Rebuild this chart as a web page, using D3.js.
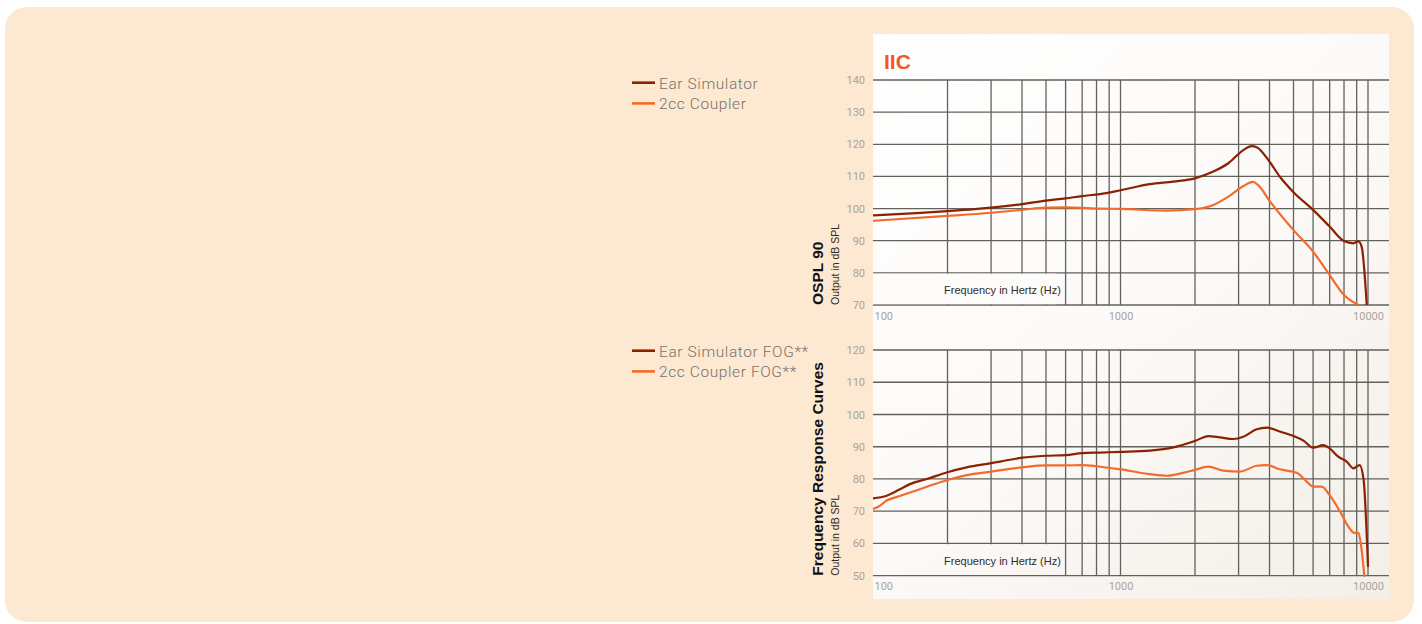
<!DOCTYPE html>
<html>
<head>
<meta charset="utf-8">
<script src="https://cdn.jsdelivr.net/npm/d3@7"></script>
<style>
  html, body { margin: 0; padding: 0; background: #ffffff; }
  svg { display: block; }
</style>
</head>
<body>
<svg id="chart" width="1422" height="624"></svg>
<script>
// ---------- DATA ----------
const chartTitle = "IIC";
const xTickValues = [100, 1000, 10000];
const gridFreqs = [200, 300, 400, 500, 600, 700, 800, 900, 1000,
                   2000, 3000, 4000, 5000, 6000, 7000, 8000, 9000, 10000];

const osplTicks = [70, 80, 90, 100, 110, 120, 130, 140];
const fogTicks = [50, 60, 70, 80, 90, 100, 110, 120];

const osplEarFreq = [100, 150, 200, 300, 400, 500, 600, 700, 826, 1000, 1315, 1637, 2000, 2371, 2728, 3136, 3390, 3550, 4000, 4405, 5000, 6000, 7000, 8000, 8736, 9150, 9435, 9885];
const osplEarDb   = [97.9, 98.6, 99.2, 100.3, 101.4, 102.5, 103.2, 103.9, 104.5, 105.7, 107.6, 108.4, 109.4, 111.5, 114.1, 118.2, 119.4, 119.1, 114.6, 109.9, 105.1, 99.6, 94.4, 89.9, 89.2, 89.8, 88.0, 70];

const osplCplFreq = [100, 200, 300, 400, 500, 600, 700, 826, 1000, 1538, 2000, 2371, 2728, 3136, 3430, 3600, 4030, 5000, 6000, 7000, 8000, 9150];
const osplCplDb   = [96.2, 97.7, 98.7, 99.6, 100.3, 100.4, 100.2, 100.0, 99.9, 99.35, 99.8, 101.1, 103.7, 107.0, 108.3, 107.3, 102.1, 93.3, 86.6, 79.3, 73.1, 70];

const fogEarFreq = [100, 113.6, 128.5, 141, 165, 200, 239, 300, 326, 400, 500, 600, 700, 826, 1000, 1315, 1637, 2000, 2265, 2524, 2857, 3136, 3550, 3899, 4405, 5000, 5481, 6000, 6589, 7000, 7580, 8199, 8736, 9250, 9600, 10000];
const fogEarDb   = [74.0, 74.8, 76.8, 78.4, 80.0, 82.1, 83.6, 84.9, 85.4, 86.6, 87.2, 87.4, 88.0, 88.2, 88.4, 88.8, 89.8, 91.8, 93.3, 92.9, 92.4, 93.1, 95.4, 95.9, 94.7, 93.3, 91.9, 89.7, 90.5, 89.5, 86.9, 85.4, 83.3, 84.3, 79.7, 52.8];

const fogCplFreq = [100, 105, 113.6, 128.5, 165, 200, 239, 300, 400, 500, 600, 700, 826, 1000, 1315, 1538, 1795, 2000, 2265, 2605, 3040, 3550, 3899, 4405, 5152, 5651, 6000, 6490, 7000, 7709, 8336, 8800, 9150, 9390, 9670];
const fogCplDb   = [70.7, 71.4, 73.3, 74.7, 77.6, 79.7, 81.2, 82.3, 83.6, 84.2, 84.2, 84.3, 83.8, 83.0, 81.5, 81.0, 81.9, 82.8, 83.8, 82.6, 82.3, 84.1, 84.3, 83.0, 81.9, 79.2, 77.6, 77.6, 75.0, 69.9, 65.2, 63.3, 63.3, 59.0, 49.7];

const osplLegend = ["Ear Simulator", "2cc Coupler"];
const fogLegend = ["Ear Simulator FOG**", "2cc Coupler FOG**"];
const seriesColors = ["#8a2100", "#f36b2a"];

// ---------- LAYOUT ----------
const svg = d3.select("#chart");
const panel = {x0: 873, x1: 1389, y0: 34, y1: 599};
const xPlot = [873, 1368];

// background card
svg.append("rect").attr("x", 5).attr("y", 7).attr("width", 1409).attr("height", 615)
  .attr("rx", 22).attr("fill", "#fde8d1");

const defs = svg.append("defs");
const grad = defs.append("linearGradient").attr("id", "pg")
  .attr("gradientUnits", "userSpaceOnUse")
  .attr("x1", panel.x0).attr("y1", panel.y0).attr("x2", panel.x1).attr("y2", panel.y1);
grad.append("stop").attr("offset", 0).attr("stop-color", "#ffffff");
grad.append("stop").attr("offset", 0.5).attr("stop-color", "#fcfaf8");
grad.append("stop").attr("offset", 1).attr("stop-color", "#f3eee8");

svg.append("rect").attr("x", panel.x0).attr("y", panel.y0)
  .attr("width", panel.x1 - panel.x0).attr("height", panel.y1 - panel.y0)
  .attr("fill", "url(#pg)");

defs.append("clipPath").attr("id", "clipPanel").append("rect")
  .attr("x", panel.x0).attr("y", panel.y0)
  .attr("width", panel.x1 - panel.x0).attr("height", panel.y1 - panel.y0);

const x = d3.scaleLog().domain([100, 10000]).range(xPlot);

svg.append("text").attr("x", 884).attr("y", 68.5).text(chartTitle)
  .attr("font-family", "Liberation Sans, Arial, sans-serif").attr("font-weight", "bold")
  .attr("font-size", 21).attr("fill", "#f05a22");

const gridColor = "#63615b";
const tickFont = "Roboto, 'Liberation Sans', sans-serif";

function drawChart(cfg) {
  const y = d3.scaleLinear().domain(cfg.domain).range(cfg.range);
  const g = svg.append("g");

  // horizontal grid
  g.selectAll("line.h").data(cfg.ticks).join("line")
    .attr("x1", panel.x0).attr("x2", panel.x1)
    .attr("y1", d => y(d)).attr("y2", d => y(d))
    .attr("stroke", gridColor).attr("stroke-width", 1.3);

  // vertical grid
  g.selectAll("line.v").data(gridFreqs).join("line")
    .attr("x1", d => x(d)).attr("x2", d => x(d))
    .attr("y1", y(cfg.domain[1])).attr("y2", y(cfg.domain[0]))
    .attr("stroke", gridColor).attr("stroke-width", 1.3);

  // mask behind axis label (lowest band, left part)
  g.append("rect").attr("x", panel.x0).attr("y", y(cfg.domain[0] + 10) + 0.8)
    .attr("width", x(550) - panel.x0)
    .attr("height", y(cfg.domain[0]) - y(cfg.domain[0] + 10) - 1.6)
    .attr("fill", "url(#pg)");

  g.append("text").attr("x", 1002.5).attr("y", y(cfg.domain[0]) - 11)
    .attr("text-anchor", "middle").text("Frequency in Hertz (Hz)")
    .attr("font-family", "Liberation Sans, Arial, sans-serif").attr("font-size", 11)
    .attr("fill", "#2f2b28");

  // y axis labels
  const yAxis = d3.axisLeft(y).tickValues(cfg.ticks).tickSize(0).tickPadding(8);
  const ya = g.append("g").attr("transform", `translate(${panel.x0},0)`).call(yAxis);
  ya.select(".domain").remove();
  ya.selectAll("text").attr("font-family", tickFont).attr("font-size", 11)
    .attr("fill", "#aaa39a");

  // x axis labels
  const xAxis = d3.axisBottom(x).tickValues(xTickValues).tickFormat(d3.format("d"))
    .tickSize(0).tickPadding(7);
  const xa = g.append("g").attr("transform", `translate(0,${y(cfg.domain[0])})`).call(xAxis);
  xa.select(".domain").remove();
  xa.selectAll("text").attr("font-family", tickFont).attr("font-size", 11)
    .attr("fill", "#aaa39a")
    .attr("text-anchor", (d, i) => i === 0 ? "start" : "middle")
    .attr("dx", (d, i) => i === 0 ? 1 : 0);

  // curves
  const line = d3.line().x(d => x(d[0])).y(d => y(d[1])).curve(d3.curveMonotoneX);
  cfg.series.forEach((s, i) => {
    const pts = s.freq.map((f, k) => [f, s.db[k]]);
    g.append("path").attr("d", line(pts)).attr("fill", "none")
      .attr("stroke", seriesColors[i]).attr("stroke-width", 2.2)
      .attr("stroke-linejoin", "round").attr("clip-path", "url(#clipPanel)");
  });

  // rotated titles
  const yb = cfg.range[0];
  g.append("text").attr("transform", `translate(823,${yb}) rotate(-90)`)
    .text(cfg.title).attr("font-family", "Liberation Sans, Arial, sans-serif")
    .attr("font-weight", "bold").attr("font-size", 15.5).attr("fill", "#111");
  g.append("text").attr("transform", `translate(838.5,${yb}) rotate(-90)`)
    .text("Output in dB SPL").attr("font-family", "Liberation Sans, Arial, sans-serif")
    .attr("font-size", 10.5).attr("fill", "#2f2b28");

  // legend
  const lg = g.append("g");
  cfg.legend.forEach((name, i) => {
    const ly = cfg.legendY + i * 20.7;
    lg.append("line").attr("x1", 632).attr("x2", 655).attr("y1", ly).attr("y2", ly)
      .attr("stroke", seriesColors[i]).attr("stroke-width", 2.6);
    lg.append("text").attr("x", 659).attr("y", ly + 5.8).text(name)
      .attr("font-family", tickFont).attr("font-size", 15.5).attr("font-weight", 300)
      .attr("letter-spacing", 0.6).attr("fill", "#77716b");
  });
}

drawChart({
  domain: [70, 140], range: [305, 80], ticks: osplTicks, title: "OSPL 90",
  legend: osplLegend, legendY: 82.7,
  series: [{freq: osplEarFreq, db: osplEarDb}, {freq: osplCplFreq, db: osplCplDb}]
});
drawChart({
  domain: [50, 120], range: [575.7, 350], ticks: fogTicks, title: "Frequency Response Curves",
  legend: fogLegend, legendY: 350.7,
  series: [{freq: fogEarFreq, db: fogEarDb}, {freq: fogCplFreq, db: fogCplDb}]
});
</script>
</body>
</html>
